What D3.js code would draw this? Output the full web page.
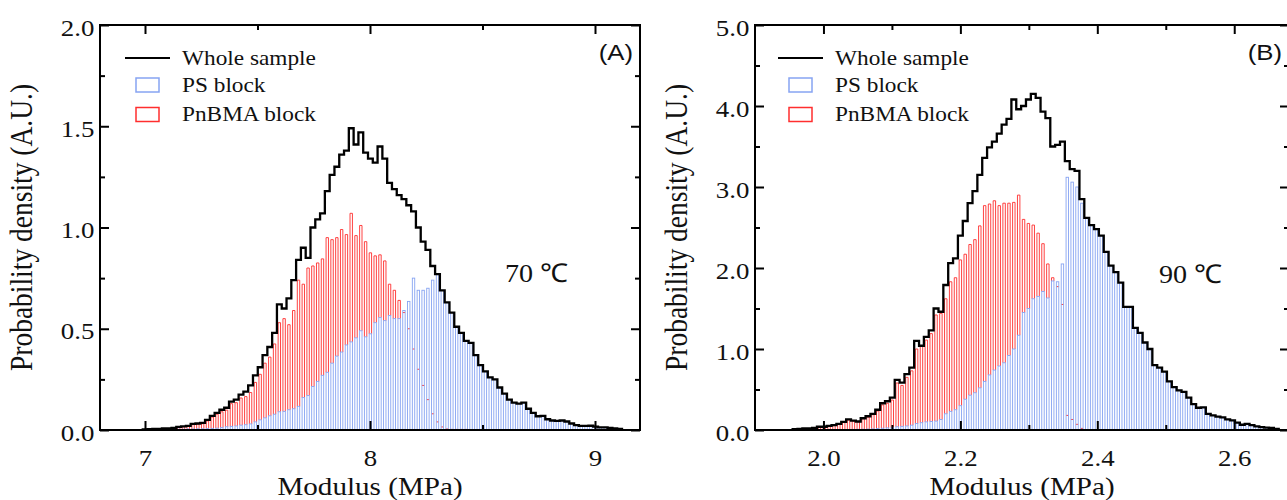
<!DOCTYPE html>
<html>
<head>
<meta charset="utf-8">
<script src="https://cdn.jsdelivr.net/npm/d3@7"></script>
<style>
  body { margin: 0; background: #fff; }
  svg { display: block; }
</style>
</head>
<body>
<div class="container"></div>
<script>
// ---- data (bin start, bin width, density per bin) ----
const binStartA = 6.99
const binWidthA = 0.0213
const wholeA = [
  0.003,0.004,0.005,0.006,0.008,0.008,0.010,0.015,0.018,0.020,
  0.030,0.032,0.035,0.050,0.070,0.085,0.100,0.110,0.140,0.150,
  0.175,0.190,0.220,0.270,0.310,0.370,0.410,0.480,0.620,0.600,
  0.650,0.740,0.840,0.900,0.850,1.000,1.040,1.070,1.180,1.260,
  1.300,1.360,1.380,1.490,1.410,1.470,1.370,1.340,1.320,1.400,
  1.340,1.220,1.190,1.160,1.140,1.110,1.080,1.000,0.930,0.890,
  0.810,0.770,0.690,0.630,0.580,0.510,0.480,0.440,0.430,0.370,
  0.320,0.290,0.260,0.250,0.210,0.180,0.150,0.135,0.130,0.135,
  0.105,0.085,0.068,0.070,0.053,0.047,0.045,0.047,0.042,0.032,
  0.024,0.020,0.020,0.021,0.017,0.013,0.013,0.010,0.008,0.005]
const psA = [
  0.001,0.001,0.002,0.002,0.002,0.003,0.003,0.004,0.004,0.005,
  0.005,0.006,0.006,0.007,0.008,0.009,0.012,0.016,0.018,0.020,
  0.024,0.026,0.030,0.040,0.050,0.060,0.070,0.078,0.090,0.092,
  0.100,0.105,0.117,0.160,0.170,0.215,0.240,0.270,0.285,0.330,
  0.365,0.385,0.420,0.435,0.455,0.490,0.460,0.475,0.530,0.555,
  0.540,0.565,0.550,0.550,0.590,0.635,0.750,0.690,0.690,0.700,
  0.740,0.770,0.690,0.630,0.580,0.510,0.480,0.440,0.430,0.370,
  0.320,0.290,0.260,0.250,0.210,0.180,0.150,0.135,0.130,0.135,
  0.105,0.085,0.068,0.070,0.053,0.047,0.045,0.047,0.042,0.032,
  0.024,0.020,0.020,0.021,0.017,0.013,0.013,0.010,0.008,0.005]
const pnbmaA = [
  0.002,0.003,0.004,0.005,0.006,0.007,0.009,0.013,0.016,0.018,
  0.027,0.029,0.031,0.045,0.064,0.078,0.090,0.098,0.130,0.135,
  0.158,0.165,0.185,0.235,0.275,0.330,0.360,0.425,0.530,0.550,
  0.520,0.590,0.740,0.720,0.800,0.810,0.825,0.845,0.950,0.940,
  0.950,0.990,0.965,1.070,0.960,1.010,0.930,0.875,0.860,0.865,
  0.835,0.720,0.690,0.640,0.580,0.500,0.400,0.300,0.220,0.150,
  0.080,0.040,0.015,0.005,0.003,0.003,0.003,0.003,0.002,0.002,
  0.002,0,0,0,0,0,0,0,0,0,
  0,0,0,0,0,0,0,0,0,0,
  0,0,0,0,0,0,0,0,0,0]

const binStartB = 1.955
const binWidthB = 0.0071
const wholeB = [
  0.010,0.015,0.020,0.020,0.025,0.040,0.040,0.050,0.060,0.075,
  0.100,0.130,0.115,0.105,0.145,0.170,0.200,0.250,0.330,0.355,
  0.400,0.620,0.585,0.690,0.770,1.100,1.040,1.150,1.230,1.500,
  1.460,1.790,2.060,2.120,2.400,2.580,2.800,2.950,3.150,3.360,
  3.490,3.560,3.660,3.770,3.840,4.080,3.960,4.000,4.080,4.150,
  4.100,3.930,3.850,3.500,3.520,3.560,3.320,3.220,3.200,2.850,
  2.620,2.530,2.480,2.400,2.200,2.030,1.950,1.820,1.520,1.520,
  1.260,1.200,1.080,1.000,0.800,0.770,0.720,0.600,0.530,0.490,
  0.470,0.400,0.320,0.275,0.280,0.200,0.180,0.165,0.155,0.130,
  0.120,0.090,0.065,0.075,0.060,0.045,0.035,0.030,0.025,0.015]
const psB = [
  0.002,0.002,0.003,0.003,0.003,0.004,0.004,0.005,0.005,0.006,
  0.006,0.007,0.008,0.009,0.010,0.012,0.014,0.018,0.022,0.026,
  0.030,0.040,0.045,0.050,0.060,0.080,0.090,0.100,0.105,0.110,
  0.130,0.200,0.230,0.250,0.300,0.380,0.430,0.460,0.520,0.600,
  0.680,0.740,0.790,0.830,0.920,1.000,1.170,1.450,1.500,1.620,
  1.650,1.710,1.630,1.840,1.830,2.050,3.120,3.060,3.000,2.800,
  2.620,2.530,2.480,2.400,2.200,2.030,1.950,1.820,1.520,1.520,
  1.260,1.200,1.080,1.000,0.800,0.770,0.720,0.600,0.530,0.490,
  0.470,0.400,0.320,0.275,0.280,0.200,0.180,0.165,0.155,0.130,
  0.120,0.090,0.065,0.075,0.060,0.045,0.035,0.030,0.025,0.015]
const pnbmaB = [
  0.008,0.012,0.018,0.018,0.022,0.036,0.036,0.046,0.055,0.070,
  0.095,0.125,0.110,0.100,0.140,0.160,0.190,0.235,0.310,0.330,
  0.370,0.580,0.550,0.650,0.730,1.000,1.040,1.110,1.190,1.420,
  1.440,1.620,1.830,1.880,2.100,2.170,2.290,2.350,2.520,2.770,
  2.790,2.830,2.770,2.800,2.800,2.810,2.900,2.600,2.550,2.530,
  2.430,2.300,2.050,1.880,1.770,1.550,0.180,0.130,0.070,0.020,
  0.005,0,0,0,0,0,0,0,0,0,
  0,0,0,0,0,0,0,0,0,0,
  0,0,0,0,0,0,0,0,0,0,
  0,0,0,0,0,0,0,0,0,0]

// ticks and labels
const xMajorA = [7, 8, 9]
const xMinorA = [7.5, 8.5]
const yMajorA = [0, 0.5, 1.0, 1.5, 2.0]
const yMinorA = [0.25, 0.75, 1.25, 1.75]
const xMajorB = [2.0, 2.2, 2.4, 2.6]
const xMinorB = [2.1, 2.3, 2.5]
const yMajorB = [0, 1, 2, 3, 4, 5]
const yMinorB = [0.5, 1.5, 2.5, 3.5, 4.5]
const seriesNames = ["Whole sample", "PS block", "PnBMA block"]
const panelTags = ["(A)", "(B)"]
const tempLabels = ["70 \u2103", "90 \u2103"]
const xTitle = "Modulus (MPa)"
const yTitle = "Probability density (A.U.)"

// ---- layout ----
const width = 1287
const height = 500
const plotTop = 25
const plotBottom = 430
const serif = '"Liberation Serif", "Times New Roman", serif'
const sans = '"Liberation Sans", Arial, sans-serif'
const stretch = 'scale(1.12,1)'
const redColor = '#ff2e2e'
const blueColor = '#87a4f2'

const panels = [
  { binStart: binStartA, binWidth: binWidthA, whole: wholeA, ps: psA, pnbma: pnbmaA,
    xDomain: [6.8, 9.2], left: 100, right: 640, yMax: 2,
    xMajor: xMajorA, xMinor: xMinorA, yMajor: yMajorA, yMinor: yMinorA,
    xFmt: d3.format("d"), tag: panelTags[0], temp: tempLabels[0], tempAt: [8.6, 0.73], legendX: 125 },
  { binStart: binStartB, binWidth: binWidthB, whole: wholeB, ps: psB, pnbma: pnbmaB,
    xDomain: [1.9, 2.68], left: 755, right: 1289, yMax: 5,
    xMajor: xMajorB, xMinor: xMinorB, yMajor: yMajorB, yMinor: yMinorB,
    xFmt: d3.format(".1f"), tag: panelTags[1], temp: tempLabels[1], tempAt: [2.49, 1.81], legendX: 778 }
]

const svg = d3.select(".container")
    .append("svg")
    .attr("width", width)
    .attr("height", height)

svg.append("rect").attr("width", width).attr("height", height).attr("fill", "#fff")

panels.forEach(p => {
    const x = d3.scaleLinear().domain(p.xDomain).range([p.left, p.right])
    const y = d3.scaleLinear().domain([0, p.yMax]).range([plotBottom, plotTop])
    const g = svg.append("g")
    const edge = i => p.binStart + i * p.binWidth
    const binPx = x(p.binWidth) - x(0)
    const barX0 = i => x(edge(i)) + binPx * 0.25
    const barX1 = i => x(edge(i)) + binPx * 0.75

    // PnBMA open bars: only the part sticking out above the PS bar is seen,
    // the top edge is always seen
    g.append("g")
        .selectAll("path")
        .data(p.pnbma.map((v, i) => ({i, v, under: p.ps[i]})).filter(d => d.v > 0))
        .enter()
        .append("path")
            .attr("d", d => d.v > d.under
                ? `M${barX0(d.i)},${y(d.under)}V${y(d.v)}H${barX1(d.i)}V${y(d.under)}`
                : `M${barX0(d.i)},${y(d.v)}H${barX1(d.i)}`)
            .attr("fill", "none")
            .attr("stroke", redColor)
            .attr("stroke-width", 0.9)

    // PS open bars
    g.append("g")
        .selectAll("rect")
        .data(p.ps.map((v, i) => ({i, v})).filter(d => d.v > 0))
        .enter()
        .append("rect")
            .attr("x", d => barX0(d.i))
            .attr("width", binPx * 0.5)
            .attr("y", d => y(d.v))
            .attr("height", d => y(0) - y(d.v))
            .attr("fill", "none")
            .attr("stroke", blueColor)
            .attr("stroke-width", 0.9)

    // whole sample as a step outline
    const pts = [[edge(0), 0]]
    p.whole.forEach((v, i) => pts.push([edge(i), v]))
    pts.push([edge(p.whole.length), 0])
    const line = d3.line()
        .x(d => x(d[0]))
        .y(d => y(d[1]))
        .curve(d3.curveStepAfter)
    g.append("path")
        .attr("d", line(pts))
        .attr("fill", "none")
        .attr("stroke", "#000")
        .attr("stroke-width", 2.3)

    // frame
    g.append("rect")
        .attr("x", p.left)
        .attr("y", plotTop)
        .attr("width", p.right - p.left)
        .attr("height", plotBottom - plotTop)
        .attr("fill", "none")
        .attr("stroke", "#000")
        .attr("stroke-width", 2)

    // axes, ticks pointing inward on all four sides
    const styleAxis = a => {
        a.attr("font-family", serif).attr("font-size", 24)
        a.select(".domain").remove()
        a.selectAll("line").attr("stroke", "#000").attr("stroke-width", 2)
    }
    const addAxis = (axis, tr) => g.append("g").attr("transform", tr).call(axis).call(styleAxis)

    const bottomAxis = addAxis(d3.axisBottom(x).tickValues(p.xMajor).tickSize(-9).tickFormat(p.xFmt),
        `translate(0,${plotBottom})`)
    bottomAxis.selectAll("text").attr("y", 36).attr("dy", null).attr("transform", stretch).attr("fill", "#111")
    addAxis(d3.axisBottom(x).tickValues(p.xMinor).tickSize(-5).tickFormat(""), `translate(0,${plotBottom})`)
    addAxis(d3.axisTop(x).tickValues(p.xMajor).tickSize(-9).tickFormat(""), `translate(0,${plotTop})`)
    addAxis(d3.axisTop(x).tickValues(p.xMinor).tickSize(-5).tickFormat(""), `translate(0,${plotTop})`)

    const leftAxis = addAxis(d3.axisLeft(y).tickValues(p.yMajor).tickSize(-9).tickFormat(d3.format(".1f")),
        `translate(${p.left},0)`)
    leftAxis.selectAll("text").attr("x", -5).attr("dy", "0.42em").attr("transform", stretch).attr("fill", "#111")
    addAxis(d3.axisLeft(y).tickValues(p.yMinor).tickSize(-5).tickFormat(""), `translate(${p.left},0)`)
    addAxis(d3.axisRight(y).tickValues(p.yMajor).tickSize(-9).tickFormat(""), `translate(${p.right},0)`)
    addAxis(d3.axisRight(y).tickValues(p.yMinor).tickSize(-5).tickFormat(""), `translate(${p.right},0)`)

    // axis titles
    g.append("text")
        .attr("transform", `translate(${(p.left + p.right) / 2},495) ${stretch}`)
        .attr("text-anchor", "middle")
        .attr("font-family", serif)
        .attr("font-size", 26)
        .attr("fill", "#111")
        .text(xTitle)
    g.append("text")
        .attr("transform", `translate(${p.left - 68},${(plotTop + plotBottom) / 2}) ${stretch} rotate(-90)`)
        .attr("text-anchor", "middle")
        .attr("font-family", serif)
        .attr("font-size", 27.5)
        .attr("fill", "#111")
        .text(yTitle)

    // panel tag and temperature
    g.append("text")
        .attr("transform", `translate(${p.right - 7},60) ${stretch}`)
        .attr("text-anchor", "end")
        .attr("font-family", sans)
        .attr("font-size", 23)
        .attr("fill", "#111")
        .text(p.tag)
    g.append("text")
        .attr("transform", `translate(${x(p.tempAt[0])},${y(p.tempAt[1])}) scale(1.08,1)`)
        .attr("font-family", serif)
        .attr("font-size", 26)
        .attr("fill", "#111")
        .text(p.temp)

    // legend
    const legend = g.append("g").attr("class", "legend")
    legend.append("line")
        .attr("x1", p.legendX).attr("x2", p.legendX + 45)
        .attr("y1", 58).attr("y2", 58)
        .attr("stroke", "#000").attr("stroke-width", 2.2)
    const boxes = [[blueColor, 78], [redColor, 107.5]]
    boxes.forEach(([c, by]) => {
        legend.append("rect")
            .attr("x", p.legendX + 11).attr("y", by)
            .attr("width", 23).attr("height", 14)
            .attr("fill", "none").attr("stroke", c).attr("stroke-width", 1.5)
    })
    const labelY = [64.5, 91.5, 121]
    seriesNames.forEach((name, k) => {
        legend.append("text")
            .attr("transform", `translate(${p.legendX + 57},${labelY[k]}) scale(1.11,1)`)
            .attr("font-family", serif)
            .attr("font-size", 21)
            .attr("fill", "#111")
            .text(name)
    })
})
</script>
</body>
</html>
